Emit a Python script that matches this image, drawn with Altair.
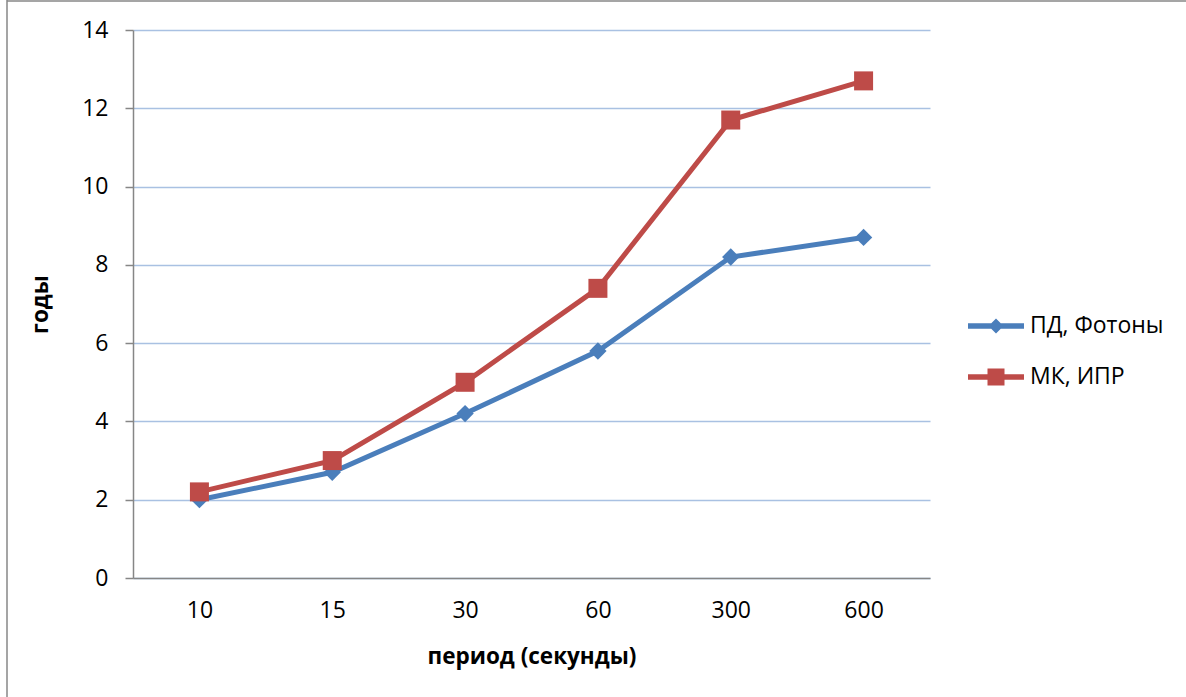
import altair as alt
import pandas as pd

# Categories (period, seconds) and the two series (years)
periods = ["10", "15", "30", "60", "300", "600"]
series_names = ["ПД, Фотоны", "МК, ИПР"]
pd_photons = [2.0, 2.7, 4.2, 5.8, 8.2, 8.7]
mk_ipr = [2.2, 3.0, 5.0, 7.4, 11.7, 12.7]
colors = ["#4A7EBB", "#BE4B48"]

rows = []
for p, v in zip(periods, pd_photons):
    rows.append({"period": p, "years": v, "series": series_names[0]})
for p, v in zip(periods, mk_ipr):
    rows.append({"period": p, "years": v, "series": series_names[1]})
df = pd.DataFrame(rows)

FONT = "Open Sans"
LABEL_SIZE = 23
TITLE_SIZE = 22.5

# Legend glyphs: a line segment with the series marker on it
diamond_path = ("M-1.4,-0.14L1.4,-0.14L1.4,0.14L-1.4,0.14Z"
                "M0,-0.375L0.375,0L0,0.375L-0.375,0Z")
square_path = ("M-1.4,-0.14L1.4,-0.14L1.4,0.14L-1.4,0.14Z"
               "M-0.425,-0.425L0.425,-0.425L0.425,0.425L-0.425,0.425Z")

x_enc = alt.X(
    "period:O",
    sort=periods,
    scale=alt.Scale(type="point", padding=0.5),
    axis=alt.Axis(
        title="период (секунды)",
        labelAngle=0,
        ticks=False,
        labelPadding=21,
        labelFontSize=LABEL_SIZE,
        labelFont=FONT,
        labelColor="#000000",
        titleFont=FONT,
        titleFontSize=TITLE_SIZE,
        titleFontWeight="bold",
        titleColor="#000000",
        titleY=78,
        titleBaseline="middle",
        domainColor="#868686",
        domainWidth=1.5,
        grid=False,
    ),
)
y_enc = alt.Y(
    "years:Q",
    scale=alt.Scale(domain=[0, 14], nice=False),
    axis=alt.Axis(
        title="годы",
        values=[0, 2, 4, 6, 8, 10, 12, 14],
        tickSize=8,
        tickColor="#868686",
        tickWidth=1.5,
        labelPadding=17,
        labelFontSize=LABEL_SIZE,
        labelFont=FONT,
        labelColor="#000000",
        titleFont=FONT,
        titleFontSize=TITLE_SIZE,
        titleFontWeight="bold",
        titleColor="#000000",
        titleX=-93,
        titleY=274,
        titleAngle=270,
        titleAlign="center",
        titleBaseline="middle",
        domainColor="#868686",
        domainWidth=1.5,
        gridColor="#A9C1E2",
        gridWidth=1.5,
    ),
)

legend = alt.Legend(
    title=None,
    orient="none",
    legendX=843,
    legendY=276,
    symbolSize=1600,
    symbolStrokeWidth=0,
    symbolOpacity=1,
    labelFont=FONT,
    labelFontSize=LABEL_SIZE,
    labelColor="#000000",
    labelOffset=14,
    rowPadding=19,
    padding=0,
)
color_enc = alt.Color(
    "series:N", scale=alt.Scale(domain=series_names, range=colors), legend=legend
)
shape_enc = alt.Shape(
    "series:N",
    scale=alt.Scale(domain=series_names, range=[diamond_path, square_path]),
    legend=legend,
)

base = alt.Chart(df).encode(x=x_enc, y=y_enc, color=color_enc)

lines = base.mark_line(strokeWidth=5)
diamonds = base.transform_filter(
    alt.datum.series == series_names[0]
).mark_point(shape="diamond", filled=True, size=300, opacity=1)
squares = base.transform_filter(
    alt.datum.series == series_names[1]
).mark_point(shape="square", filled=True, size=361, opacity=1)
# Empty layer that only carries the line-with-marker legend glyphs
legend_layer = base.transform_filter("false").mark_point(
    filled=True, opacity=1
).encode(shape=shape_enc)

# Outer chart frame (left and top edges)
frame = alt.Chart(alt.Data(values=[{}])).mark_rule(
    color="#878787", strokeWidth=1.5
)
frame_left = frame.encode(x=alt.value(-126), y=alt.value(-30), y2=alt.value(667))
frame_top = frame.encode(x=alt.value(-126), x2=alt.value(1053), y=alt.value(-29))

chart = (
    alt.layer(lines, diamonds, squares, legend_layer, frame_left, frame_top)
    .properties(
        width=797,
        height=548,
        autosize=alt.AutoSizeParams(type="none"),
        padding={"left": 133, "top": 30, "right": 256, "bottom": 119},
        background="#ffffff",
    )
    .configure_view(strokeWidth=0)
)

chart.save("out.html", embed_options={"renderer": "svg", "actions": False})
